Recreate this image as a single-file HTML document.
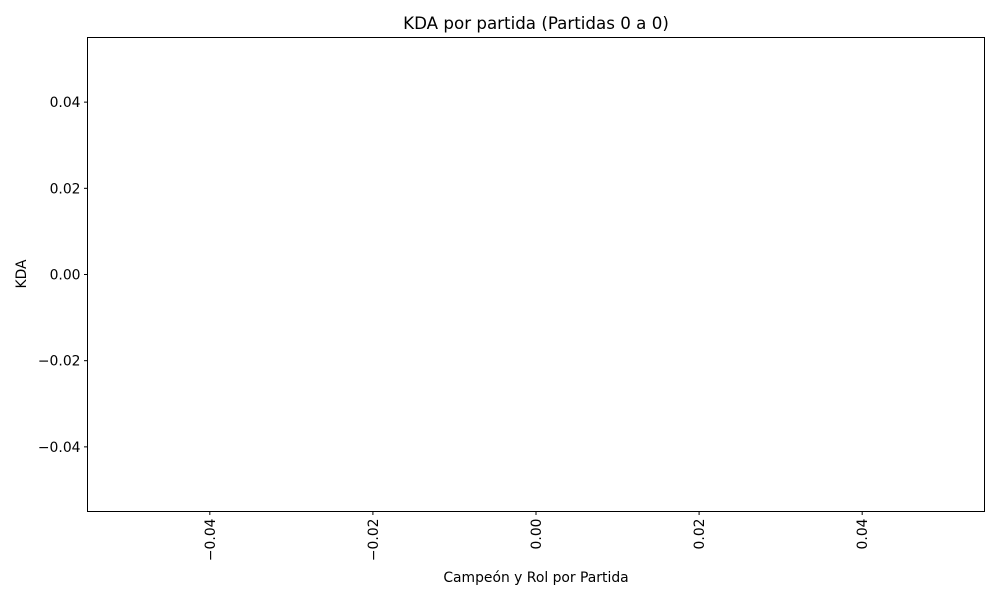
<!DOCTYPE html>
<html><head><meta charset="utf-8"><style>
body{margin:0;background:#fff;}
svg text{font-family:"DejaVu Sans","Liberation Sans",sans-serif;fill:#000;}
</style></head><body>
<svg id="chart" width="1000" height="600" xmlns="http://www.w3.org/2000/svg">
<rect width="1000" height="600" fill="#fff"/>
<text x="536" y="29" font-size="16.7" text-anchor="middle">KDA por partida (Partidas 0 a 0)</text>
<g id="ticks"></g>
<rect x="87.5" y="37.5" width="897" height="474" fill="none" stroke="#000" stroke-width="1"/>
<text x="536" y="582" font-size="13.9" text-anchor="middle">Campeón y Rol por Partida</text>
<text transform="translate(26,274) rotate(-90)" font-size="13.9" text-anchor="middle">KDA</text>
</svg>
<script>
const categories = [];
const kdaValues = [];
const xTicks = [-0.04, -0.02, 0.00, 0.02, 0.04];
const yTicks = [0.04, 0.02, 0.00, -0.02, -0.04];
const xTickLabels = ["\u22120.04", "\u22120.02", "0.00", "0.02", "0.04"];
const yTickLabels = ["0.04", "0.02", "0.00", "\u22120.02", "\u22120.04"];
const X0 = 87.5, X1 = 984.5, Y0 = 37.5, Y1 = 511.5;
const xMin = -0.055, xMax = 0.055, yMin = -0.055, yMax = 0.055;
function xs(v){return X0 + (v - xMin) / (xMax - xMin) * (X1 - X0);}
function ys(v){return Y1 - (v - yMin) / (yMax - yMin) * (Y1 - Y0);}
const NS = "http://www.w3.org/2000/svg";
const g = document.getElementById('ticks');
xTicks.forEach((v, i) => {
  const x = xs(v);
  const l = document.createElementNS(NS, 'line');
  l.setAttribute('x1', x); l.setAttribute('x2', x);
  l.setAttribute('y1', Y1); l.setAttribute('y2', Y1 + 3.5);
  l.setAttribute('stroke', '#000');
  
  
  g.appendChild(l);
  const t = document.createElementNS(NS, 'text');
  t.setAttribute('transform', `translate(${x + 5},${Y1 + 7}) rotate(-90)`);
  t.setAttribute('font-size', '13.9');
  t.setAttribute('text-anchor', 'end');
  t.textContent = xTickLabels[i];
  
  
  g.appendChild(t);
});
yTicks.forEach((v, i) => {
  const y = ys(v);
  const l = document.createElementNS(NS, 'line');
  l.setAttribute('x1', X0 - 3.5); l.setAttribute('x2', X0);
  l.setAttribute('y1', y); l.setAttribute('y2', y);
  l.setAttribute('stroke', '#000');
  
  
  g.appendChild(l);
  const t = document.createElementNS(NS, 'text');
  t.setAttribute('x', X0 - 7);
  t.setAttribute('y', y + 5);
  t.setAttribute('font-size', '13.9');
  t.setAttribute('text-anchor', 'end');
  t.textContent = yTickLabels[i];
  
  
  g.appendChild(t);
});
kdaValues.forEach((v, i) => {
  const r = document.createElementNS(NS, 'rect');
  const x = xs(i - 0.4), w = xs(i + 0.4) - x;
  r.setAttribute('x', x); r.setAttribute('width', w);
  r.setAttribute('y', Math.min(ys(v), ys(0)));
  r.setAttribute('height', Math.abs(ys(v) - ys(0)));
  r.setAttribute('fill', '#1f77b4');
  
  
  g.appendChild(r);
});
</script>
</body></html>
